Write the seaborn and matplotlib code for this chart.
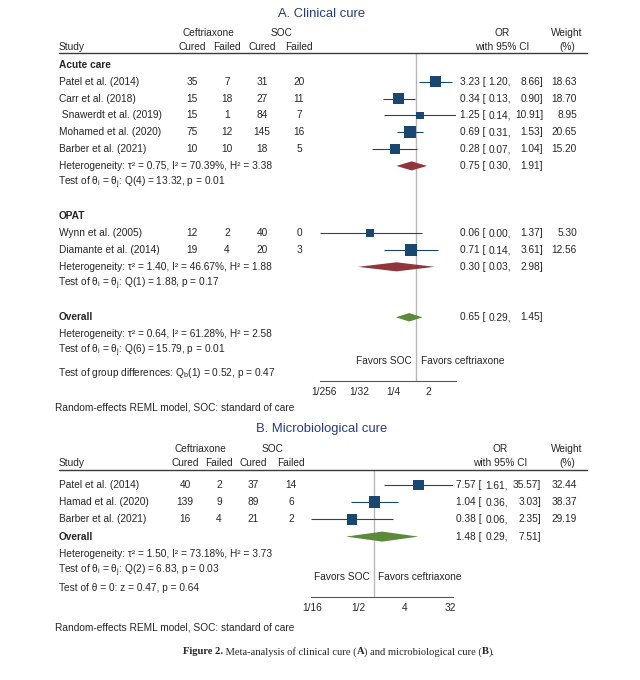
import matplotlib
matplotlib.use("Agg")
import matplotlib.pyplot as plt
import matplotlib.transforms as mtransforms
from matplotlib.lines import Line2D
from matplotlib.ticker import NullLocator
import seaborn as sns

# --- DATA: panel A, clinical cure ---
A_GROUPS = ["Acute care", "OPAT"]
A_STUDIES = ["Patel et al. (2014)", "Carr et al. (2018)", " Snawerdt et al. (2019)",
             "Mohamed et al. (2020)", "Barber et al. (2021)",
             "Wynn et al. (2005)", "Diamante et al. (2014)"]
A_STUDY_GROUP = [0, 0, 0, 0, 0, 1, 1]
A_CEF_CURED = [35, 15, 15, 75, 10, 12, 19]
A_CEF_FAILED = [7, 18, 1, 12, 10, 2, 4]
A_SOC_CURED = [31, 27, 84, 145, 18, 40, 20]
A_SOC_FAILED = [20, 11, 7, 16, 5, 0, 3]
A_OR = [3.23, 0.34, 1.25, 0.69, 0.28, 0.06, 0.71]
A_LO = [1.20, 0.13, 0.14, 0.31, 0.07, 0.003, 0.14]
A_HI = [8.66, 0.90, 10.91, 1.53, 1.04, 1.37, 3.61]
A_WEIGHT = [18.63, 18.70, 8.95, 20.65, 15.20, 5.30, 12.56]
A_SUB_OR = [0.75, 0.30]
A_SUB_LO = [0.30, 0.03]
A_SUB_HI = [1.91, 2.98]
A_SUB_HET = ["τ² = 0.75, I² = 70.39%, H² = 3.38", "τ² = 1.40, I² = 46.67%, H² = 1.88"]
A_SUB_Q = ["Q(4) = 13.32, p = 0.01", "Q(1) = 1.88, p = 0.17"]
A_ALL = (0.65, 0.29, 1.45)
A_ALL_HET = "τ² = 0.64, I² = 61.28%, H² = 2.58"
A_ALL_Q = "Q(6) = 15.79, p = 0.01"
A_GROUP_DIFF = "Q$_\\mathrm{b}$(1) = 0.52, p = 0.47"
A_TICKS = [2 ** -8, 2 ** -5, 2 ** -2, 2]
A_TICKLABELS = ["1/256", "1/32", "1/4", "2"]

# --- DATA: panel B, microbiological cure ---
B_STUDIES = ["Patel et al. (2014)", "Hamad et al. (2020)", "Barber et al. (2021)"]
B_CEF_CURED = [40, 139, 16]
B_CEF_FAILED = [2, 9, 4]
B_SOC_CURED = [37, 89, 21]
B_SOC_FAILED = [14, 6, 2]
B_OR = [7.57, 1.04, 0.38]
B_LO = [1.61, 0.36, 0.06]
B_HI = [35.57, 3.03, 2.35]
B_WEIGHT = [32.44, 38.37, 29.19]
B_ALL = (1.48, 0.29, 7.51)
B_ALL_HET = "τ² = 1.50, I² = 73.18%, H² = 3.73"
B_ALL_Q = "Q(2) = 6.83, p = 0.03"
B_ZTEST = "z = 0.47, p = 0.64"
B_TICKS = [2 ** -4, 2 ** -1, 4, 32]
B_TICKLABELS = ["1/16", "1/2", "4", "32"]

NAVY = "#1a476f"
MAROON = "#90353b"
GREEN = "#5b8a3a"
TITLE_C = "#263b7c"
FS = 7.3

sns.set_style("white")
plt.rcParams["font.family"] = ["Liberation Sans", "DejaVu Sans"]
plt.rcParams["mathtext.fontset"] = "custom"
plt.rcParams["mathtext.rm"] = "Liberation Sans"
plt.rcParams["mathtext.it"] = "Liberation Sans:italic"
plt.rcParams["mathtext.bf"] = "Liberation Sans:bold"

W, H = 640, 680
fig = plt.figure(figsize=(W / 100, H / 100), dpi=100)
fig.patch.set_facecolor("white")


def fx(px):
    return px / W


def fy(py):
    return 1 - py / H


def ftext(xpx, ypx, s, ha="center", **kw):
    kw.setdefault("fontsize", FS)
    fig.text(fx(xpx), fy(ypx), s, ha=ha, va="center", **kw)


def hline(x0, x1, ypx):
    fig.add_artist(Line2D([fx(x0), fx(x1)], [fy(ypx), fy(ypx)], transform=fig.transFigure,
                          color="#3c3c3c", lw=1.0))


def forest_axes(left, right, top, bottom, row0, step, lo, hi, ticks, labels):
    ax = fig.add_axes([fx(left), fy(bottom), fx(right - left), (bottom - top) / H])
    ax.set_xscale("log", base=2)
    ax.set_xlim(min(lo), max(hi))
    ax.set_ylim((bottom - row0) / step, (top - row0) / step)
    ax.patch.set_alpha(0)
    for side in ["top", "left", "right"]:
        ax.spines[side].set_visible(False)
    ax.spines["bottom"].set_color("#555555")
    ax.spines["bottom"].set_linewidth(0.8)
    ax.set_xticks(ticks)
    ax.set_xticklabels(labels)
    ax.xaxis.set_minor_locator(NullLocator())
    ax.set_yticks([])
    ax.tick_params(axis="x", length=3, width=0.7, color="#555555", pad=1.5, labelsize=FS)
    ax.axvline(1, color="#b8b8b8", lw=1.0, zorder=1)
    return ax


def put(ax, xpx, row, s, ha="left", **kw):
    tr = mtransforms.blended_transform_factory(fig.transFigure, ax.transData)
    ax.text(fx(xpx), row, s, transform=tr, ha=ha, va="center", fontsize=FS, **kw)


def ci_text(ax, row, est, lo, hi, cols):
    put(ax, cols[0], row, f"{est:.2f} [")
    put(ax, cols[1], row, f"{lo:.2f},", ha="right")
    put(ax, cols[2], row, f"{hi:.2f}]", ha="right")


def diamond(ax, row, est, lo, hi, h, color):
    ax.fill([lo, est, hi, est], [row, row - h, row, row + h], color=color, lw=0, zorder=3)


def study_rows(ax, rows, names, c1, c2, c3, c4, orv, lo, hi, wt, numx, cicols, wx):
    ax.hlines(rows, lo, hi, color=NAVY, lw=0.8, zorder=2)
    sns.scatterplot(x=orv, y=rows, size=wt, sizes=(0, 72), size_norm=(0, max(wt)),
                    marker="s", color=NAVY, linewidth=0, legend=False, ax=ax, zorder=3)
    for i, r in enumerate(rows):
        put(ax, 59, r, names[i])
        for x, col in zip(numx, [c1, c2, c3, c4]):
            put(ax, x, r, str(col[i]), ha="center")
        ci_text(ax, r, orv[i], lo[i], hi[i], cicols)
        put(ax, wx, r, f"{wt[i]:.2f}", ha="right")


def headers(ytop, ybot, cef_x, soc_x, numx, orx, wx):
    ftext(cef_x, ytop, "Ceftriaxone")
    ftext(soc_x, ytop, "SOC")
    ftext(orx, ytop, "OR")
    ftext(wx, ytop, "Weight")
    ftext(59, ybot, "Study", ha="left")
    for x, s in zip(numx, ["Cured", "Failed", "Cured", "Failed"]):
        ftext(x, ybot, s)
    ftext(orx, ybot, "with 95% CI")
    ftext(wx, ybot, "(%)")


TEST_IJ = "Test of θ$_\\mathrm{i}$ = θ$_\\mathrm{j}$: "
MATH_X = 57.5  # mathtext strings carry a small leading offset

# ---------------- Panel A ----------------
ftext(322, 14, "A. Clinical cure", fontsize=9.4, color=TITLE_C)
A_NUMX = [192, 227, 262, 299]
A_CICOLS = [460, 511, 543]
headers(33, 47, 208, 282, A_NUMX, 502, 567)
hline(59, 587, 53)

axA = forest_axes(320, 456, 53, 381, 65, 16.82, A_LO, A_HI, A_TICKS, A_TICKLABELS)
k = 0
for g, gname in enumerate(A_GROUPS):
    put(axA, 59, k, gname, fontweight="bold")
    idx = [i for i, s in enumerate(A_STUDY_GROUP) if s == g]
    rows = [k + 1 + j for j in range(len(idx))]
    study_rows(axA, rows, [A_STUDIES[i] for i in idx],
               [A_CEF_CURED[i] for i in idx], [A_CEF_FAILED[i] for i in idx],
               [A_SOC_CURED[i] for i in idx], [A_SOC_FAILED[i] for i in idx],
               [A_OR[i] for i in idx], [A_LO[i] for i in idx], [A_HI[i] for i in idx],
               [A_WEIGHT[i] for i in idx], A_NUMX, A_CICOLS, 577)
    r = k + 1 + len(idx)
    diamond(axA, r, A_SUB_OR[g], A_SUB_LO[g], A_SUB_HI[g], 0.27, MAROON)
    put(axA, 59, r, "Heterogeneity: " + A_SUB_HET[g])
    ci_text(axA, r, A_SUB_OR[g], A_SUB_LO[g], A_SUB_HI[g], A_CICOLS)
    put(axA, MATH_X, r + 1, TEST_IJ + A_SUB_Q[g])
    k = r + 3

put(axA, 59, k, "Overall", fontweight="bold")
diamond(axA, k, *A_ALL, 0.25, GREEN)
ci_text(axA, k, *A_ALL, A_CICOLS)
put(axA, 59, k + 1, "Heterogeneity: " + A_ALL_HET)
put(axA, MATH_X, k + 2, TEST_IJ + A_ALL_Q)
put(axA, MATH_X, k + 3.3, "Test of group differences: " + A_GROUP_DIFF)
axA.annotate("Favors SOC", (1, k + 2.6), xytext=(-3, 0), textcoords="offset points",
             ha="right", va="center", fontsize=FS)
axA.annotate("Favors ceftriaxone", (1, k + 2.6), xytext=(3, 0), textcoords="offset points",
             ha="left", va="center", fontsize=FS)
axA.set_xlabel("")
axA.set_ylabel("")
ftext(55, 407, "Random-effects REML model, SOC: standard of care", ha="left")

# ---------------- Panel B ----------------
ftext(322, 429, "B. Microbiological cure", fontsize=9.4, color=TITLE_C)
B_NUMX = [185, 219, 253, 291]
B_CICOLS = [456, 508, 541]
headers(449, 463, 200, 273, B_NUMX, 500, 567)
hline(59, 587, 470)

axB = forest_axes(311, 453, 470, 597, 485, 17.2, B_LO, B_HI, B_TICKS, B_TICKLABELS)
rowsB = list(range(len(B_STUDIES)))
study_rows(axB, rowsB, B_STUDIES, B_CEF_CURED, B_CEF_FAILED, B_SOC_CURED, B_SOC_FAILED,
           B_OR, B_LO, B_HI, B_WEIGHT, B_NUMX, B_CICOLS, 577)
k = len(B_STUDIES)
put(axB, 59, k, "Overall", fontweight="bold")
diamond(axB, k, *B_ALL, 0.29, GREEN)
ci_text(axB, k, *B_ALL, B_CICOLS)
put(axB, 59, k + 1, "Heterogeneity: " + B_ALL_HET)
put(axB, MATH_X, k + 2, TEST_IJ + B_ALL_Q)
put(axB, 59, k + 3, "Test of θ = 0: " + B_ZTEST)
axB.annotate("Favors SOC", (1, k + 2.35), xytext=(-3, 0), textcoords="offset points",
             ha="right", va="center", fontsize=FS)
axB.annotate("Favors ceftriaxone", (1, k + 2.35), xytext=(3, 0), textcoords="offset points",
             ha="left", va="center", fontsize=FS)
axB.set_xlabel("")
axB.set_ylabel("")
ftext(55, 627, "Random-effects REML model, SOC: standard of care", ha="left")

# ---------------- caption (mixed bold / regular serif) ----------------
caption = [("Figure 2.", "bold"), (" Meta-analysis of clinical cure (", "normal"), ("A", "bold"),
           (") and microbiological cure (", "normal"), ("B", "bold"), (").", "normal")]
renderer = fig.canvas.get_renderer()
pieces = []
for s, wgt in caption:
    t = fig.text(0, fy(652), s, fontsize=7.6, fontweight=wgt, family="Liberation Serif",
                 ha="left", va="center")
    pieces.append(t)
widths = [t.get_window_extent(renderer).width for t in pieces]
x = 339 - sum(widths) / 2
for t, w in zip(pieces, widths):
    t.set_x(fx(x))
    x += w

fig.savefig("out.png", dpi=100, facecolor="white")
